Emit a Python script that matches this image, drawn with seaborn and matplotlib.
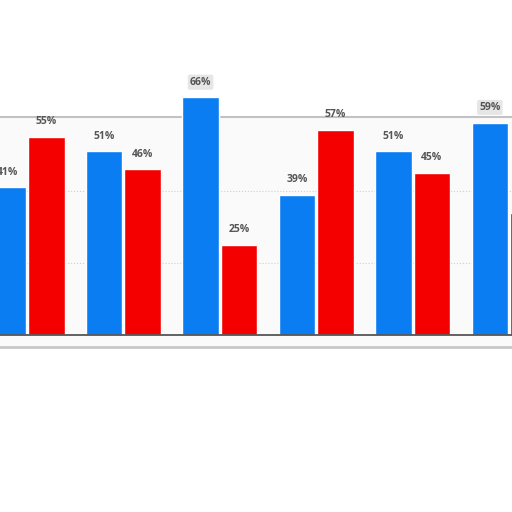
import matplotlib
matplotlib.use("Agg")
import matplotlib.pyplot as plt
import seaborn as sns
import pandas as pd

groups = ["G1", "G2", "G3", "G4", "G5", "G6"]
series_names = ["Blue", "Red"]
blue_values = [41, 51, 66, 39, 51, 59]
red_values = [55, 46, 25, 57, 45, 34]
colors = {"Blue": "#0A7DF2", "Red": "#F40000"}

rows = []
for g, b, r in zip(groups, blue_values, red_values):
    rows.append({"group": g, "series": "Blue", "value": b})
    rows.append({"group": g, "series": "Red", "value": r})
df = pd.DataFrame(rows)

sns.set_theme(style="white")
plt.rcParams['font.family'] = ['Open Sans', 'DejaVu Sans']

fig = plt.figure(figsize=(5.12, 5.12), dpi=100)
ax = fig.add_axes([0, 0, 1, 1])
ax.set_facecolor("white")

# torn paper strip background
ax.axhspan(-3.3, 60.5, color="#FAFAFA", zorder=0)
ax.axhline(60.5, color="#C2C2C2", lw=1.5, zorder=0.5)
ax.axhline(-3.3, color="#C8C8C8", lw=2.0, zorder=0.5)

sns.barplot(data=df, x="group", y="value", hue="series", order=groups,
            hue_order=series_names, palette=colors, width=0.8, gap=0.05,
            saturation=1, legend=False, ax=ax, zorder=3)

for cont in ax.containers:
    labels = [f"{v:.0f}%" for v in cont.datavalues]
    texts = ax.bar_label(cont, labels=labels, padding=7, fontsize=7.5,
                         fontweight="bold", color="#555555")
    for t, v in zip(texts, cont.datavalues):
        if v > 58:
            t.set_bbox(dict(boxstyle="round,pad=0.2", fc="#E6E6E6",
                            ec="none"))

ax.axhline(0, color="#555555", lw=1.3, zorder=4)

ax.set_xlim(-0.28, 5.03)
ax.set_ylim(-49.17, 93.06)
ax.set_yticks([20, 40])
ax.grid(axis="y", color="#CFCFCF", ls=":", lw=0.8, zorder=1)
ax.set_axisbelow(True)
ax.tick_params(left=False, bottom=False, labelleft=False, labelbottom=False)
ax.set_xlabel("")
ax.set_ylabel("")
for s in ax.spines.values():
    s.set_visible(False)

fig.savefig("out.png", dpi=100)
